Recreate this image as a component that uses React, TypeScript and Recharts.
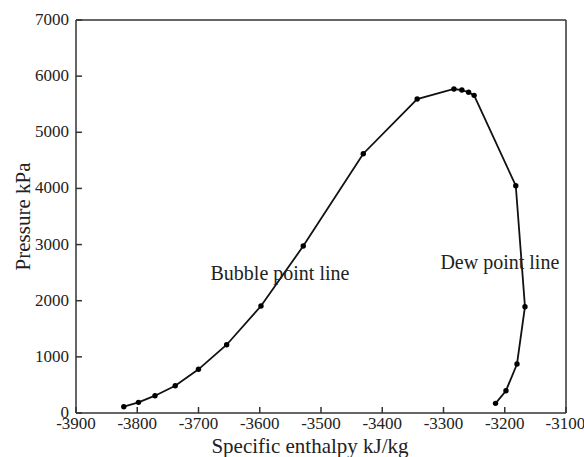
import { Line, LineChart, ReferenceDot, ReferenceLine, XAxis, YAxis, Label } from "recharts";

// specific enthalpy (kJ/kg) and pressure (kPa), bubble point line then dew point line
const enthalpy = [-3822, -3798, -3771, -3738, -3700, -3654, -3598, -3529, -3431, -3343, -3283, -3270, -3259, -3250, -3182, -3167, -3180, -3198, -3215];
const pressure = [112, 190, 308, 486, 778, 1216, 1906, 2974, 4618, 5592, 5771, 5753, 5712, 5658, 4049, 1893, 873, 397, 172];

const xTicks = [-3900, -3800, -3700, -3600, -3500, -3400, -3300, -3200, -3100];
const yTicks = [0, 1000, 2000, 3000, 4000, 5000, 6000, 7000];

const data = enthalpy.map((h, i) => ({ h, p: pressure[i] }));

const font = "'Liberation Serif', serif";
const axisColor = "#333";

function XTick({ x, y, payload }: any) {
  return (
    <text x={x} y={y} dy={12} textAnchor="middle" fill="#222" fontSize={17} fontFamily={font}>
      {payload.value}
    </text>
  );
}

function YTick({ x, y, payload }: any) {
  return (
    <text x={x} y={y} dy={5} textAnchor="end" fill="#222" fontSize={17} fontFamily={font}>
      {payload.value}
    </text>
  );
}

export default function App() {
  return (
    <div style={{ position: "absolute", left: 0, top: 0, width: 584, height: 457, background: "#fff" }}>
      <LineChart width={584} height={457} data={data} margin={{ top: 20, right: 18, left: 0, bottom: 0 }}>
        <XAxis
          type="number"
          dataKey="h"
          domain={[-3900, -3100]}
          ticks={xTicks}
          height={44}
          tickSize={-6}
          tickMargin={10}
          stroke={axisColor}
          strokeWidth={1.5}
          tick={<XTick />}
        >
          <Label value="Specific enthalpy kJ/kg" position="insideBottom" offset={4} dx={-11} style={{ fill: "#222", fontSize: 21, fontFamily: font }} />
        </XAxis>
        <YAxis
          type="number"
          domain={[0, 7000]}
          ticks={yTicks}
          width={76}
          tickSize={-6}
          tickMargin={13}
          stroke={axisColor}
          strokeWidth={1.5}
          tick={<YTick />}
        >
          <Label value="Pressure kPa" angle={-90} position="insideLeft" offset={23} style={{ fill: "#222", fontSize: 21, fontFamily: font, textAnchor: "middle" }} />
        </YAxis>
        <ReferenceLine y={7000} stroke={axisColor} strokeWidth={1.5} />
        <ReferenceLine x={-3100} stroke={axisColor} strokeWidth={1.5} />
        <ReferenceDot x={-3567} y={2493} r={0} stroke="none" label={{ value: "Bubble point line", position: "center", fill: "#222", fontSize: 20, fontFamily: font }} />
        <ReferenceDot x={-3208} y={2689} r={0} stroke="none" label={{ value: "Dew point line", position: "center", fill: "#222", fontSize: 20, fontFamily: font }} />
        <Line
          type="linear"
          dataKey="p"
          stroke="#111"
          strokeWidth={1.8}
          dot={{ r: 2.7, fill: "#000", stroke: "#000", strokeWidth: 0 }}
          isAnimationActive={false}
        />
      </LineChart>
    </div>
  );
}
